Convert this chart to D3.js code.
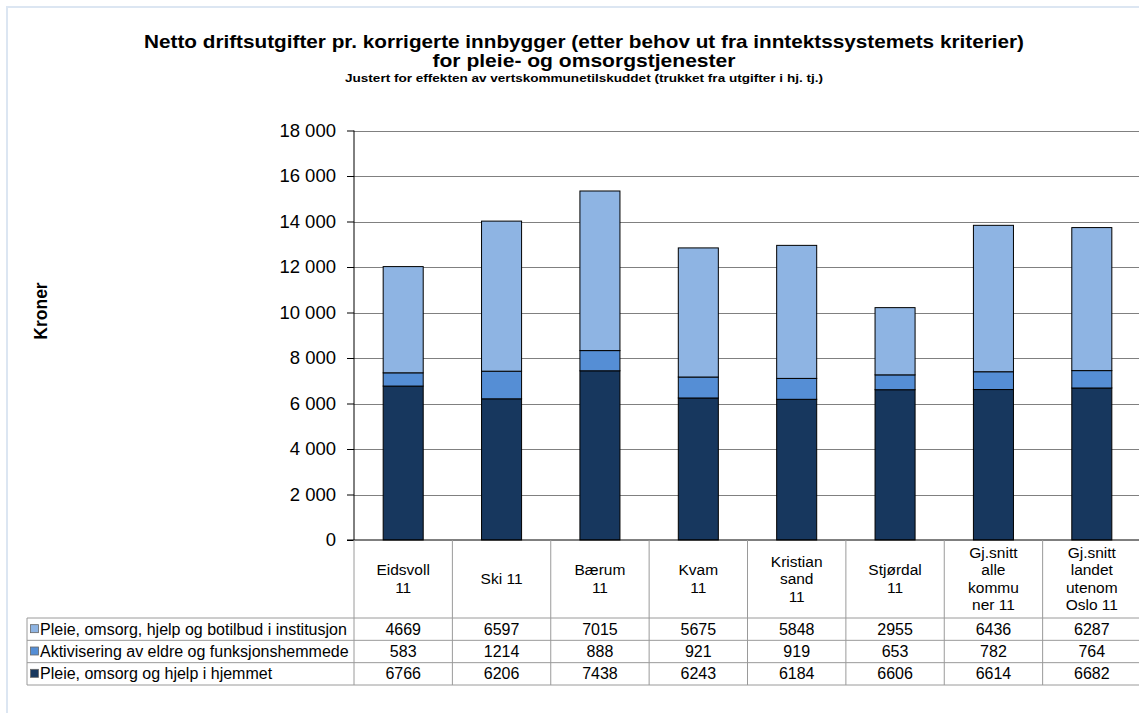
<!DOCTYPE html>
<html>
<head>
<meta charset="utf-8">
<script src="https://cdn.jsdelivr.net/npm/d3@7"></script>
<style>
  body { margin: 0; background: #fff; }
  svg { display: block; font-family: "Liberation Sans", Arial, sans-serif; }
</style>
</head>
<body>
<div id="chart"></div>
<script>
// kategorier (linjeskift som i tabellhodet)
var kommuner = ['Eidsvoll\n11', 'Ski 11', 'Bærum\n11', 'Kvam\n11', 'Kristian\nsand\n11', 'Stjørdal\n11', 'Gj.snitt\nalle\nkommu\nner 11', 'Gj.snitt\nlandet\nutenom\nOslo 11']
var serier = ['Pleie, omsorg, hjelp og botilbud i institusjon', 'Aktivisering av eldre og funksjonshemmede', 'Pleie, omsorg og hjelp i hjemmet']
var institusjon = [4669, 6597, 7015, 5675, 5848, 2955, 6436, 6287]
var aktivisering = [583, 1214, 888, 921, 919, 653, 782, 764]
var hjemmet = [6766, 6206, 7438, 6243, 6184, 6606, 6614, 6682]
var yTicks = [0, 2000, 4000, 6000, 8000, 10000, 12000, 14000, 16000, 18000]
var farger = ['#8EB4E3', '#558ED5', '#17375E']

var W = 1139, H = 713
var plot = { left: 354, right: 1141, top: 130.5, bottom: 540 }
var tab = { left: 27, head: 618, bottom: 685 }

var svg = d3.select('#chart').append('svg').attr('width', W).attr('height', H)

// ramme
svg.append('rect').attr('x', 7).attr('y', 7).attr('width', W + 20).attr('height', H + 20)
  .attr('fill', '#fff').attr('stroke', '#DCE6F2').attr('stroke-width', 2)

// tittel (strukket til samme bredde som originalen)
var tittel = svg.append('g').attr('text-anchor', 'middle').attr('font-weight', 'bold').attr('fill', '#000')
tittel.append('text').attr('x', 584).attr('y', 48).attr('font-size', '19px')
  .attr('textLength', 880).attr('lengthAdjust', 'spacingAndGlyphs')
  .text('Netto driftsutgifter pr. korrigerte innbygger (etter behov ut fra inntektssystemets kriterier)')
tittel.append('text').attr('x', 584).attr('y', 67).attr('font-size', '19px')
  .attr('textLength', 303).attr('lengthAdjust', 'spacingAndGlyphs')
  .text('for pleie- og omsorgstjenester')
tittel.append('text').attr('x', 584).attr('y', 82).attr('font-size', '11.5px')
  .attr('textLength', 478).attr('lengthAdjust', 'spacingAndGlyphs')
  .text('Justert for effekten av vertskommunetilskuddet (trukket fra utgifter i hj. tj.)')

svg.append('text').attr('transform', 'translate(47,311) rotate(-90)')
  .attr('text-anchor', 'middle').attr('font-weight', 'bold').attr('font-size', '17.5px')
  .text('Kroner')

var x = d3.scaleBand().domain(kommuner).range([plot.left, plot.right])
var y = d3.scaleLinear().domain([0, 18000]).range([plot.bottom, plot.top])
var nb = d3.formatLocale({ decimal: ',', thousands: ' ', grouping: [3], currency: ['', ''] })

// rutenett
svg.append('g').selectAll('line').data(yTicks.slice(1)).enter().append('line')
  .attr('x1', plot.left).attr('x2', plot.right)
  .attr('y1', function (d) { return Math.round(y(d)) + 0.5 })
  .attr('y2', function (d) { return Math.round(y(d)) + 0.5 })
  .attr('stroke', '#808080').attr('stroke-width', 1)

// stablede søyler
var rader = kommuner.map(function (k, i) {
  return { kommune: k, hjemmet: hjemmet[i], aktivisering: aktivisering[i], institusjon: institusjon[i] }
})
var stack = d3.stack().keys(['hjemmet', 'aktivisering', 'institusjon'])(rader)
var fargeFor = { hjemmet: farger[2], aktivisering: farger[1], institusjon: farger[0] }
var bw = x.bandwidth() * 0.407

svg.append('g').selectAll('g').data(stack).enter().append('g')
  .attr('fill', function (s) { return fargeFor[s.key] })
  .selectAll('rect').data(function (s) { return s }).enter().append('rect')
  .attr('x', function (d) { return x(d.data.kommune) + (x.bandwidth() - bw) / 2 })
  .attr('width', bw)
  .attr('y', function (d) { return y(d[1]) })
  .attr('height', function (d) { return y(d[0]) - y(d[1]) })
  .attr('stroke', '#000').attr('stroke-width', 1)

// y-akse
var yAxis = svg.append('g').attr('transform', 'translate(' + plot.left + ',0)')
  .call(d3.axisLeft(y).tickValues(yTicks).tickSize(7).tickPadding(11).tickFormat(nb.format(',')))
yAxis.selectAll('text').attr('font-size', '18.5px').attr('fill', '#000').attr('font-family', null)
yAxis.selectAll('line').attr('stroke', '#000')
yAxis.select('.domain').attr('stroke', '#000').attr('d', 'M0,' + plot.top + 'V' + plot.bottom)

svg.append('line').attr('x1', plot.left - 7).attr('x2', plot.right)
  .attr('y1', plot.bottom).attr('y2', plot.bottom).attr('stroke', '#000')

// datatabell
var rowH = (tab.bottom - tab.head) / 3
var tg = svg.append('g')
var grenser = kommuner.map(function (k) { return x(k) }).concat([plot.right])
tg.selectAll('line.v').data(grenser).enter().append('line')
  .attr('x1', function (d) { return d }).attr('x2', function (d) { return d })
  .attr('y1', plot.bottom).attr('y2', tab.bottom)
  .attr('stroke', '#9a9a9a')
tg.append('line').attr('x1', tab.left).attr('x2', tab.left).attr('y1', tab.head).attr('y2', tab.bottom).attr('stroke', '#9a9a9a')
tg.selectAll('line.h').data([0, 1, 2, 3]).enter().append('line')
  .attr('x1', tab.left).attr('x2', plot.right)
  .attr('y1', function (i) { return tab.head + i * rowH }).attr('y2', function (i) { return tab.head + i * rowH })
  .attr('stroke', '#9a9a9a')

// tabellhode
tg.selectAll('text.kat').data(kommuner).enter().append('text')
  .attr('text-anchor', 'middle').attr('font-size', '15.5px').attr('fill', '#000')
  .each(function (k) {
    var linjer = k.split('\n')
    var cy = (plot.bottom + tab.head) / 2 - (linjer.length - 1) * 17.5 / 2 + 5
    var t = d3.select(this)
    linjer.forEach(function (l, j) {
      t.append('tspan').attr('x', x(k) + x.bandwidth() / 2).attr('y', cy + j * 17.5).text(l)
    })
  })

// tabellrader
var verdier = [institusjon, aktivisering, hjemmet]
serier.forEach(function (navn, r) {
  var yy = tab.head + r * rowH
  tg.append('rect').attr('x', 30.5).attr('y', yy + rowH / 2 - 4.5).attr('width', 8).attr('height', 8)
    .attr('fill', farger[r]).attr('stroke', '#666').attr('stroke-width', 0.8)
  tg.append('text').attr('x', 40).attr('y', yy + rowH / 2 + 5.5).attr('font-size', '16px').text(navn)
  tg.selectAll(null).data(verdier[r]).enter().append('text')
    .attr('x', function (d, i) { return x(kommuner[i]) + x.bandwidth() / 2 })
    .attr('y', yy + rowH / 2 + 5.5).attr('text-anchor', 'middle').attr('font-size', '16px')
    .text(function (d) { return d })
})
</script>
</body>
</html>
